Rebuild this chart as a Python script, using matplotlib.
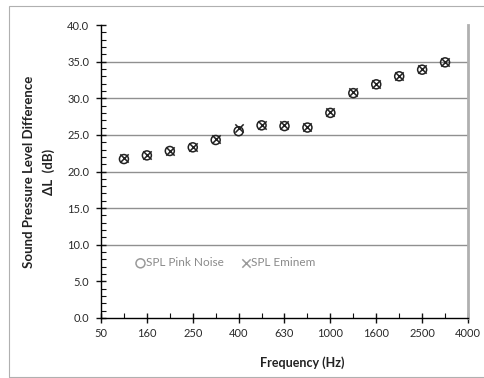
import matplotlib
matplotlib.use('Agg')
import matplotlib.pyplot as plt
from matplotlib.patches import Rectangle

plt.rcParams['font.family'] = ['Lato', 'DejaVu Sans']

# category axis (labels shown on every second band)
axis_labels = ['50', '160', '250', '400', '630', '1000', '1600', '2500', '4000']
band_pos = list(range(1, 16))

spl_pink_noise = [21.7, 22.2, 22.8, 23.3, 24.3, 25.5, 26.3, 26.2, 26.0, 28.0,
                  30.7, 31.9, 33.0, 33.9, 34.9]
spl_eminem = [21.8, 22.3, 22.8, 23.4, 24.4, 25.9, 26.4, 26.3, 26.1, 28.1,
              30.8, 32.0, 33.1, 34.0, 35.0]

grid_levels = [10, 15, 20, 25, 30, 35]


def main():
    fig = plt.figure(figsize=(4.85, 3.78), dpi=100)
    fig.patches.append(Rectangle((9 / 485, 0.003), 1.0, 1 - 0.003 - 6 / 378,
                                 transform=fig.transFigure, fill=False,
                                 edgecolor='#b0b0b0', linewidth=0.8))
    ax = fig.add_axes([101 / 485, 60 / 378, 367 / 485, 293 / 378])

    for g in grid_levels:
        ax.axhline(g, color='#909090', linewidth=1.0, zorder=1)

    ax.scatter(band_pos, spl_pink_noise, s=42, marker='o', facecolors='none',
               edgecolors='#222222', linewidths=1.1, zorder=3, label='SPL Pink Noise')
    ax.scatter(band_pos, spl_eminem, s=36, marker='x', color='#222222',
               linewidths=1.1, zorder=4, label='SPL Eminem')

    ax.set_xlim(0, 16)
    ax.set_ylim(0, 40)
    ax.set_xticks(range(0, 17, 2))
    ax.set_xticklabels(axis_labels)
    ax.set_xticks(range(1, 16, 2), minor=True)
    ax.set_yticks(range(0, 41, 5))
    ax.set_yticklabels([f'{v:.1f}' for v in range(0, 41, 5)])
    ax.set_yticks(range(0, 41), minor=True)

    ax.tick_params(axis='both', which='major', direction='inout', length=7,
                   width=1.0, labelsize=8, colors='#111111', labelcolor='#2a2a2a')
    ax.tick_params(axis='x', which='major', pad=4)
    ax.tick_params(axis='y', which='major', pad=5)
    ax.tick_params(axis='both', which='minor', direction='in', length=3.5,
                   width=0.8, colors='#111111')

    ax.spines['top'].set_visible(False)
    ax.spines['right'].set_color('#b0b0b0')
    ax.spines['right'].set_linewidth(2.0)
    ax.spines['left'].set_linewidth(1.0)
    ax.spines['bottom'].set_linewidth(1.0)

    ax.set_xlabel('Frequency (Hz)', fontsize=9, fontweight='bold', color='#222222')
    ax.xaxis.set_label_coords(0.548, -0.13)
    ax.set_ylabel('Sound Pressure Level Difference\n\u0394L  (dB)', fontsize=9.5,
                  fontweight='bold', color='#222222', linespacing=1.75)
    ax.yaxis.set_label_coords(-0.125, 0.5)

    leg = ax.legend(loc='center', bbox_to_anchor=(0.34, 0.188), ncol=2,
                    frameon=False, fontsize=8.5, handletextpad=0.05,
                    handlelength=0.8, columnspacing=1.5)
    for t in leg.get_texts():
        t.set_color('#8a8a8a')
    for h in leg.legend_handles:
        h.set_edgecolor('#9a9a9a')
        if h.get_label() == 'SPL Eminem':
            h.set_color('#9a9a9a')

    fig.savefig('out.png', dpi=100)


if __name__ == '__main__':
    main()
